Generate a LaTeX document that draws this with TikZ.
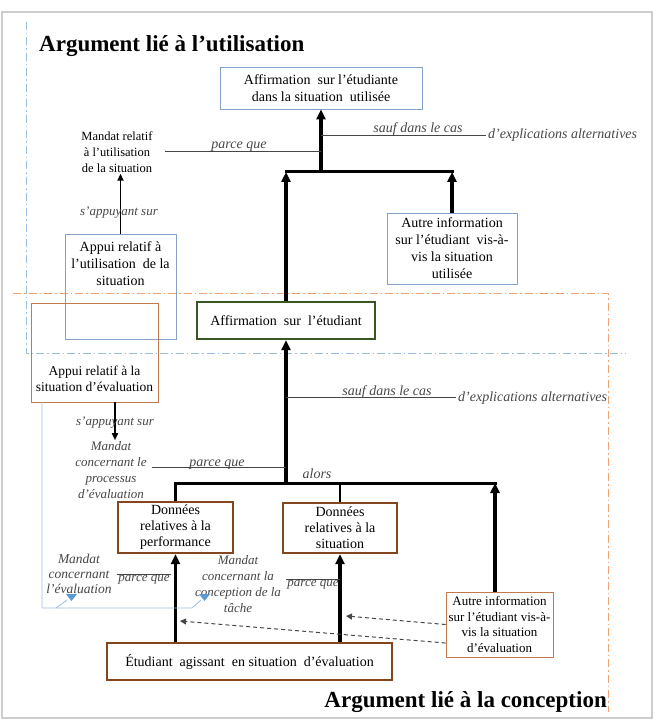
\documentclass[tikz,border=0pt]{standalone}
\usepackage{fontspec}
\setmainfont{Liberation Serif}
\usetikzlibrary{positioning, arrows.meta}

\definecolor{useblue}{RGB}{132,162,200}
\definecolor{claimgreen}{RGB}{56,87,35}
\definecolor{evalbrown}{RGB}{133,70,30}
\definecolor{evalorange}{RGB}{196,120,80}
\definecolor{lineblue}{RGB}{155,190,225}
\definecolor{lineorange}{RGB}{238,165,115}
\definecolor{calloutblue}{RGB}{91,155,213}
\definecolor{labelgray}{RGB}{70,70,70}
\definecolor{framegray}{RGB}{205,205,205}

\begin{document}
\begin{tikzpicture}[x = 1pt, y = -1pt,
    every node/.style = { align = center, inner sep = 1pt, font = \fontsize{14}{17}\selectfont },
    usebox/.style = { draw = useblue, line width = .9pt },
    evalbox/.style = { draw = evalbrown, line width = 2.4pt, font = \fontsize{14}{16}\selectfont },
    infobox/.style = { draw = evalorange, line width = .9pt },
    note/.style = { font = \fontsize{14}{16}\selectfont\itshape, text = labelgray },
    support/.style = { font = \fontsize{13}{16}\selectfont\itshape, text = labelgray },
    link/.style = { draw = labelgray, line width = .8pt },
    strong/.style = { line width = 3.2pt, -{Triangle[length = 10pt, width = 9pt]} },
    lean/.style = { line width = 1.6pt, -{Triangle[length = 7pt, width = 6pt]} },
    rail/.style = { line width = 3pt, line cap = rect },
    hint/.style = { labelgray, line width = 1pt, dash pattern = on 4pt off 3pt, -{Triangle[length = 6pt, width = 6pt]} },
    zone/.style = { line width = 1pt, dash pattern = on 8pt off 3pt on 1.5pt off 3pt },
    title/.style = { font = \fontsize{23}{26}\selectfont\bfseries }
  ]
  \useasboundingbox (0,0) rectangle (656,722);
  \draw [framegray, line width = 1.5pt] (2,12) rectangle (652,718);

  % the two arguments
  \draw [zone, lineblue] (26,22) -- (26,353) -- (626,353);
  \draw [zone, lineorange] (13,293) -- (608,293) -- (608,712);

  \node (titleuse) [title, anchor = base west] at (38,52) {Argument lié à l'utilisation};
  \node (titledesign) [title, anchor = base east] at (608,707) {Argument lié à la conception};

  % use argument
  \node (claimuse) [usebox, minimum width = 202pt, minimum height = 42pt] at (321,88)
    {Affirmation\ \ sur l'étudiante\\dans la situation\ \ utilisée};
  \node (warrantuse) [font = \fontsize{12.5}{16}\selectfont] at (117,152)
    {Mandat relatif\\à l'utilisation\\de la situation};
  \node (backuse) [usebox, minimum width = 111pt, minimum height = 105pt] at (120.5,286.5) {};
  \node (backusetext) at (120.5,264) {Appui relatif à\\l'utilisation\ \ de la\\situation};
  \node (otheruse) [usebox, minimum width = 130pt, minimum height = 71pt] at (452,248.5)
    {Autre information\\sur l'étudiant\ \ vis-à-\\vis la situation\\utilisée};
  \node (claim) [draw = claimgreen, line width = 2.4pt, minimum width = 178pt, minimum height = 37pt] at (286,320.5)
    {Affirmation\ \ sur\ \ l'étudiant};

  \coordinate (juse) at (321,172);
  \draw [strong] (juse) -- (claimuse.south);
  \draw [rail] (claim.north |- juse) -- (otheruse.north |- juse);
  \draw [strong] (claim.north) -- (claim.north |- juse);
  \draw [strong] (otheruse.north) -- (otheruse.north |- juse);
  \draw [lean] (backuse.north) -- (backuse.north |- warrantuse.south);
  \node (leanuse) [support] at (119,213) {s'appuyant sur};

  \coordinate (pqa) at (165,151);
  \draw [link] (pqa) -- (pqa -| juse);
  \node (becauseuse) [note, anchor = base] at (239,149) {parce que};
  \coordinate (unlessa) at (486,135);
  \draw [link] (juse |- unlessa) -- (unlessa);
  \node (unlessuse) [note, anchor = base] at (418,133) {sauf dans le cas};
  \node (altuse) [note, anchor = base west] at (487,139) {d'explications alternatives};

  % design argument
  \node (backeval) [infobox, minimum width = 127pt, minimum height = 99pt] at (94.5,352.5) {};
  \node (backevaltext) [font = \fontsize{13.5}{16}\selectfont] at (94.5,379) {Appui relatif à la\\situation d'évaluation};
  \node (warranteval) [support] at (111,470) {Mandat\\concernant le\\processus\\d'évaluation};
  \node (perf) [evalbox, minimum width = 115pt, minimum height = 51pt] at (175.5,527.5)
    {Données\\relatives à la\\performance};
  \node (sit) [evalbox, minimum width = 114pt, minimum height = 50pt] at (340,528)
    {Données\\relatives à la\\situation};
  \node (student) [evalbox, minimum width = 285pt, minimum height = 37pt] at (249.5,661.5)
    {Étudiant\ \ agissant\ \ en situation\ \ d'évaluation};
  \node (othereval) [infobox, minimum width = 107pt, minimum height = 65pt, font = \fontsize{13}{15.5}\selectfont] at (499.5,624.5)
    {Autre information\\sur l'étudiant vis-à-\\vis la situation\\d'évaluation};

  \coordinate (jeval) at (286,483);
  \coordinate (oearrow) at ([xshift = -4.5pt] othereval.north);
  \draw [strong] (jeval) -- (claim.south);
  \draw [rail] (perf.north |- jeval) -- (oearrow |- jeval);
  \draw [line width = 2.2pt] (perf.north) -- (perf.north |- jeval);
  \draw [line width = 2.2pt] (sit.north) -- (sit.north |- jeval);
  \draw [strong] (oearrow) -- (oearrow |- jeval);
  \draw [strong] (student.north -| perf.south) -- (perf.south);
  \draw [strong] (student.north -| sit.south) -- (sit.south);

  \coordinate (unlessb) at (456,397);
  \draw [link] (jeval |- unlessb) -- (unlessb);
  \node (unlesseval) [note, anchor = base] at (387,395) {sauf dans le cas};
  \node (alteval) [note, anchor = base west] at (457,401) {d'explications alternatives};
  \node (then) [note] at (317,474) {alors};
  \coordinate (pqb) at (152,467);
  \draw [link] (pqb) -- (pqb -| jeval);
  \node (becauseeval) [note, anchor = base] at (217,466) {parce que};

  \coordinate (sa) at (115,402);
  \draw [lean] (sa) -- (sa |- warranteval.north);
  \node (leaneval) [support] at (115,423) {s'appuyant sur};

  \node (warrantperf) [support, font = \fontsize{13.5}{15}\selectfont\itshape] at (79,574) {Mandat\\concernant\\l'évaluation};
  \node (warranttask) [support] at (238,584) {Mandat\\concernant la\\conception de la\\tâche};
  \node (becauseperf) [support] at (144,580) {parce que};
  \draw [link] (becauseperf.north west) -- (becauseperf.north east);
  \node (becausesit) [support] at (313,585) {parce que};
  \draw [link] (becausesit.north west) -- (becausesit.north east);

  \coordinate (hintsit) at (346,616);
  \coordinate (hintperf) at (180,621);
  \draw [hint] (othereval.west) -- (hintsit);
  \draw [hint] ([yshift = -18.5pt] othereval.west) -- (hintperf);

  % callout marks
  \draw [lineblue, line width = .8pt] (42,402) -- (42,608) -- (192,608) -- (201,600);
  \draw [lineblue, line width = .8pt] (56,608) -- (67,600);
  \fill [calloutblue] (66,594) -- (77,594) -- (71.5,601) -- cycle;
  \fill [calloutblue] (199,594) -- (210,594) -- (204.5,601) -- cycle;
\end{tikzpicture}
\end{document}
